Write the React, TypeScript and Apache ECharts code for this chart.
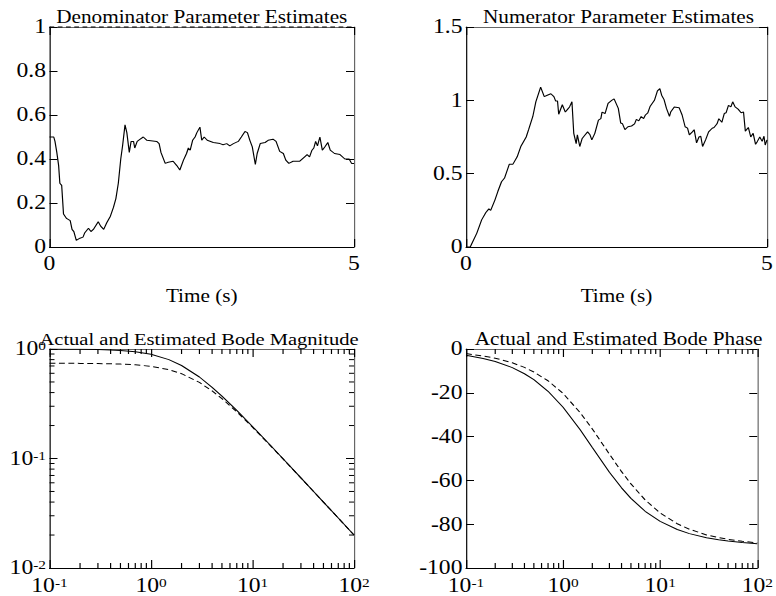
import React, { useEffect, useRef } from "react";
import * as echarts from "echarts";

// horizontal stretch of the reference typography
const S = 1.18;
const W = 776 / S;
const H = 596;
const FONT = '"Liberation Serif", "Times New Roman", serif';

// ---------- data ----------
const denomTime = [0,0.07,0.09,0.12,0.15,0.17,0.20,0.23,0.28,0.34,0.37,0.40,0.44,0.50,0.55,0.58,0.64,0.68,0.72,0.80,0.84,0.89,0.94,1.00,1.05,1.09,1.13,1.17,1.20,1.24,1.27,1.31,1.34,1.38,1.40,1.44,1.49,1.54,1.60,1.76,1.80,1.83,1.90,1.95,2.03,2.09,2.14,2.20,2.25,2.28,2.31,2.35,2.39,2.42,2.47,2.50,2.54,2.59,2.69,2.80,2.85,2.91,2.96,3.02,3.10,3.15,3.21,3.25,3.29,3.33,3.38,3.41,3.46,3.54,3.59,3.67,3.72,3.78,3.84,3.88,3.93,4.00,4.11,4.19,4.23,4.27,4.31,4.34,4.37,4.40,4.44,4.48,4.52,4.57,4.61,4.68,4.77,4.85,4.92,4.96,5.00];
const denomEstimate = [0.50,0.50,0.48,0.43,0.37,0.29,0.28,0.15,0.13,0.12,0.08,0.07,0.03,0.04,0.045,0.065,0.085,0.07,0.08,0.115,0.095,0.08,0.11,0.14,0.18,0.22,0.29,0.40,0.46,0.555,0.52,0.43,0.48,0.48,0.45,0.48,0.49,0.50,0.485,0.48,0.47,0.43,0.38,0.385,0.39,0.37,0.35,0.395,0.425,0.45,0.44,0.485,0.50,0.52,0.545,0.485,0.50,0.485,0.475,0.47,0.465,0.47,0.46,0.47,0.48,0.50,0.525,0.52,0.485,0.455,0.375,0.425,0.47,0.475,0.485,0.49,0.48,0.435,0.425,0.395,0.38,0.39,0.39,0.41,0.42,0.41,0.44,0.45,0.48,0.46,0.50,0.44,0.455,0.475,0.44,0.425,0.42,0.40,0.40,0.38,0.38];
const denomLeadTime = [0, 5];
const denomLeadValue = [1, 1];

const numTime = [0,0.07,0.18,0.26,0.33,0.38,0.41,0.48,0.53,0.59,0.64,0.72,0.78,0.85,0.91,1.00,1.04,1.11,1.16,1.24,1.30,1.35,1.41,1.46,1.49,1.52,1.54,1.60,1.65,1.69,1.72,1.76,1.79,1.83,1.85,1.89,1.93,1.98,2.02,2.06,2.09,2.14,2.20,2.24,2.26,2.31,2.36,2.42,2.46,2.53,2.57,2.60,2.64,2.69,2.75,2.80,2.83,2.87,2.91,2.95,2.98,3.02,3.06,3.13,3.18,3.22,3.25,3.29,3.33,3.38,3.40,3.46,3.54,3.59,3.64,3.68,3.71,3.76,3.79,3.83,3.87,3.90,3.93,3.98,4.03,4.09,4.12,4.17,4.20,4.25,4.29,4.32,4.36,4.40,4.43,4.47,4.52,4.57,4.61,4.64,4.69,4.73,4.77,4.81,4.84,4.88,4.92,4.95,4.97,5.00];
const numEstimate = [0,0,0.095,0.185,0.235,0.26,0.25,0.32,0.38,0.445,0.47,0.565,0.565,0.615,0.685,0.75,0.80,0.89,0.99,1.09,1.025,1.035,1.045,1.025,0.995,0.995,0.905,0.97,0.92,0.94,0.955,0.99,0.775,0.705,0.765,0.685,0.74,0.765,0.785,0.765,0.73,0.775,0.865,0.875,0.92,0.91,0.98,1.0,1.01,0.945,0.845,0.84,0.80,0.82,0.825,0.84,0.87,0.86,0.89,0.875,0.90,0.915,0.96,1.0,1.065,1.08,1.035,1.005,0.945,0.89,0.92,0.955,0.95,0.90,0.82,0.81,0.765,0.785,0.80,0.71,0.75,0.755,0.685,0.73,0.785,0.81,0.815,0.84,0.875,0.85,0.91,0.915,0.965,0.955,0.99,0.955,0.94,0.915,0.92,0.79,0.815,0.75,0.775,0.70,0.72,0.75,0.72,0.755,0.695,0.73];

const freq = [0.1,0.15,0.2,0.3,0.4,0.5,0.7,1,1.5,2,3,4,5,7,10,15,20,30,40,50,70,100];
const magActual = [0.999,0.997,0.995,0.989,0.981,0.970,0.944,0.894,0.800,0.707,0.555,0.447,0.371,0.275,0.196,0.132,0.0995,0.0665,0.0499,0.0400,0.0286,0.0200];
const magEstimated = [0.740,0.740,0.739,0.736,0.733,0.728,0.717,0.695,0.648,0.595,0.495,0.414,0.352,0.267,0.193,0.131,0.0991,0.0664,0.0499,0.0400,0.0286,0.0200];
const phaseActual = [-2.9,-4.3,-5.7,-8.5,-11.3,-14.0,-19.3,-26.6,-36.9,-45.0,-56.3,-63.4,-68.2,-74.1,-78.7,-82.4,-84.3,-86.2,-87.1,-87.7,-88.4,-88.9];
const phaseEstimated = [-2.1,-3.2,-4.2,-6.3,-8.4,-10.5,-14.5,-20.3,-29.1,-36.5,-48.0,-56.0,-61.6,-68.9,-74.9,-79.8,-82.3,-84.9,-86.1,-86.9,-87.8,-88.5];

// minor tick values for the log axes
const minorFreqTicks = [0.2,0.3,0.4,0.5,0.6,0.7,0.8,0.9,2,3,4,5,6,7,8,9,20,30,40,50,60,70,80,90];
const minorMagTicks = [0.02,0.03,0.04,0.05,0.06,0.07,0.08,0.09,0.2,0.3,0.4,0.5,0.6,0.7,0.8,0.9];

const titles = [
  "Denominator Parameter Estimates",
  "Numerator Parameter Estimates",
  "Actual and Estimated Bode Magnitude",
  "Actual and Estimated Bode Phase",
];

// ---------- layout ----------
const gridsPx = [
  { l: 49.5, t: 27, w: 304.5, h: 220 },
  { l: 466, t: 27, w: 305, h: 220 },
  { l: 49.5, t: 349, w: 304.5, h: 219 },
  { l: 466, t: 349, w: 305, h: 219 },
];
const grids = gridsPx.map((g) => ({ left: g.l / S, top: g.t, width: g.w / S, height: g.h }));
const titleLayout = [
  { cx: 201.75, cy: 17, size: 18 },
  { cx: 618.5, cy: 17, size: 18 },
  { cx: 199, cy: 339, size: 17.4 },
  { cx: 618.5, cy: 339, size: 18 },
];

const pairs = (xs: number[], ys: number[]) => xs.map((x, i) => [x, ys[i]]);

const supFormatter = (v: number) => {
  const e = Math.round(Math.log10(v));
  return `{b|10}{s|${e}}`;
};
const supRich = {
  b: { fontFamily: FONT, fontSize: 20, color: "#000" },
  s: { fontFamily: FONT, fontSize: 13, color: "#000", verticalAlign: "top" },
};

function xAxisPair(gridIndex: number, cfg: any, name?: string) {
  const base: any = {
    gridIndex,
    splitLine: { show: false },
    ...cfg.scale,
  };
  const bottom = {
    ...base,
    position: "bottom",
    axisLine: { show: true, onZero: false, lineStyle: { color: "#000", width: 1 } },
    axisTick: { show: true, inside: true, length: 8, lineStyle: { color: "#000" } },
    axisLabel: {
      show: true,
      fontFamily: FONT,
      fontSize: 20,
      color: "#000",
      margin: cfg.log ? 8 : 7,
      showMinLabel: true,
      showMaxLabel: true,
      ...(cfg.log ? { formatter: supFormatter, rich: supRich } : {}),
    },
    ...(name
      ? {
          name,
          nameLocation: "middle",
          nameGap: 40,
          nameTextStyle: { fontFamily: FONT, fontSize: 18, color: "#000" },
        }
      : {}),
  };
  const top = {
    ...base,
    position: "top",
    axisLine: { show: true, onZero: false, lineStyle: { color: "#666", width: 1 } },
    axisTick: { show: true, inside: true, length: 8, lineStyle: { color: "#000" } },
    axisLabel: { show: false },
  };
  return [bottom, top];
}

function yAxisPair(gridIndex: number, cfg: any) {
  const base: any = {
    gridIndex,
    splitLine: { show: false },
    ...cfg.scale,
  };
  const left = {
    ...base,
    position: "left",
    axisLine: { show: true, onZero: false, lineStyle: { color: "#000", width: 1 } },
    axisTick: { show: true, inside: true, length: 8 / S, lineStyle: { color: "#000" } },
    axisLabel: {
      show: true,
      fontFamily: FONT,
      fontSize: 20,
      color: "#000",
      margin: 3,
      showMinLabel: true,
      showMaxLabel: true,
      ...(cfg.log ? { formatter: supFormatter, rich: supRich } : {}),
    },
  };
  const right = {
    ...base,
    position: "right",
    axisLine: { show: true, onZero: false, lineStyle: { color: "#666", width: 1 } },
    axisTick: { show: true, inside: true, length: 8 / S, lineStyle: { color: "#000" } },
    axisLabel: { show: false },
  };
  return [left, right];
}

const timeX = { scale: { type: "value", min: 0, max: 5, interval: 5 } };
const freqX = { log: true, scale: { type: "log", logBase: 10, min: 0.1, max: 100 } };

const xAxes = [
  ...xAxisPair(0, timeX, "Time (s)"),
  ...xAxisPair(1, timeX, "Time (s)"),
  ...xAxisPair(2, freqX),
  ...xAxisPair(3, freqX),
];
const yAxes = [
  ...yAxisPair(0, { scale: { type: "value", min: 0, max: 1, interval: 0.2 } }),
  ...yAxisPair(1, { scale: { type: "value", min: 0, max: 1.5, interval: 0.5 } }),
  ...yAxisPair(2, { log: true, scale: { type: "log", logBase: 10, min: 0.01, max: 1 } }),
  ...yAxisPair(3, { scale: { type: "value", min: -100, max: 0, interval: 20 } }),
];

const lineSeries = (k: number, data: number[][], dashed?: number[], clip = true) => ({
  type: "line",
  xAxisIndex: 2 * k,
  yAxisIndex: 2 * k,
  data,
  showSymbol: false,
  symbol: "none",
  clip,
  silent: true,
  lineStyle: { color: "#000", width: 1, type: dashed || "solid" },
});

const minorXSeries = (k: number, yBottom: number, yTop: number) => ({
  type: "custom",
  xAxisIndex: 2 * k,
  yAxisIndex: 2 * k,
  silent: true,
  clip: false,
  data: minorFreqTicks.map((f) => [f, yBottom]),
  renderItem: (_p: any, api: any) => {
    const f = api.value(0);
    const b = api.coord([f, yBottom]);
    const t = api.coord([f, yTop]);
    return {
      type: "group",
      children: [
        { type: "line", shape: { x1: b[0], y1: b[1], x2: b[0], y2: b[1] - 5 }, style: { stroke: "#000", lineWidth: 1 } },
        { type: "line", shape: { x1: t[0], y1: t[1], x2: t[0], y2: t[1] + 5 }, style: { stroke: "#000", lineWidth: 1 } },
      ],
    };
  },
});

const minorYSeries = (k: number, xLeft: number, xRight: number) => ({
  type: "custom",
  xAxisIndex: 2 * k,
  yAxisIndex: 2 * k,
  silent: true,
  clip: false,
  data: minorMagTicks.map((m) => [xLeft, m]),
  renderItem: (_p: any, api: any) => {
    const m = api.value(1);
    const l = api.coord([xLeft, m]);
    const r = api.coord([xRight, m]);
    const len = 5 / S;
    return {
      type: "group",
      children: [
        { type: "line", shape: { x1: l[0], y1: l[1], x2: l[0] + len, y2: l[1] }, style: { stroke: "#000", lineWidth: 1 } },
        { type: "line", shape: { x1: r[0], y1: r[1], x2: r[0] - len, y2: r[1] }, style: { stroke: "#000", lineWidth: 1 } },
      ],
    };
  },
});

const titleGraphics = titles.map((text, i) => {
  const t = titleLayout[i];
  return {
    type: "text",
    x: t.cx / S,
    y: t.cy,
    silent: true,
    style: {
      text,
      fontFamily: FONT,
      fontSize: t.size,
      fill: "#000",
      align: "center",
      verticalAlign: "middle",
      textAlign: "center",
      textVerticalAlign: "middle",
    },
  };
});

const option: any = {
  animation: false,
  backgroundColor: "#fff",
  grid: grids,
  xAxis: xAxes,
  yAxis: yAxes,
  graphic: titleGraphics,
  series: [
    lineSeries(0, pairs(denomLeadTime, denomLeadValue), [4, 3], false),
    lineSeries(0, pairs(denomTime, denomEstimate)),
    lineSeries(1, pairs(numTime, numEstimate)),
    lineSeries(2, pairs(freq, magActual)),
    lineSeries(2, pairs(freq, magEstimated), [5, 3]),
    lineSeries(3, pairs(freq, phaseActual)),
    lineSeries(3, pairs(freq, phaseEstimated), [5, 3]),
    minorXSeries(2, 0.01, 1),
    minorYSeries(2, 0.1, 100),
    minorXSeries(3, -100, 0),
  ],
};

export default function App() {
  const ref = useRef<HTMLDivElement>(null);
  useEffect(() => {
    const chart = echarts.init(ref.current!, null, { renderer: "svg" });
    chart.setOption(option);
    return () => chart.dispose();
  }, []);
  return (
    <div
      style={{
        position: "absolute",
        left: 0,
        top: 0,
        width: 776,
        height: 596,
        overflow: "hidden",
        background: "#fff",
      }}
    >
      <div
        ref={ref}
        style={{ width: W, height: H, transform: `scaleX(${S})`, transformOrigin: "0 0" }}
      />
    </div>
  );
}
